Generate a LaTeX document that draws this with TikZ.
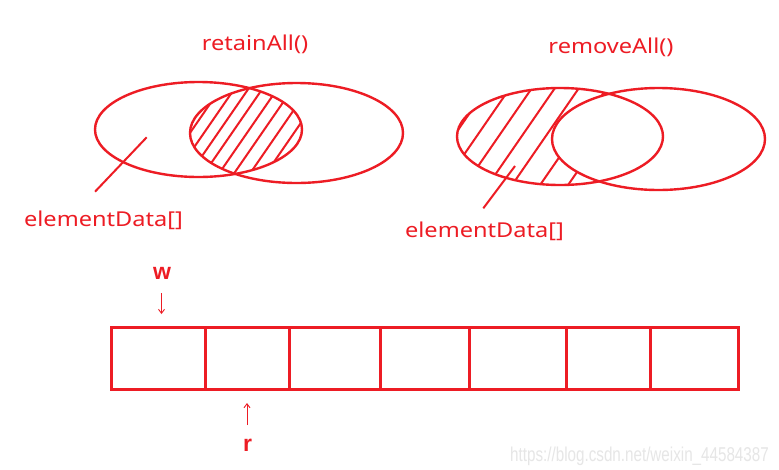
\documentclass[tikz,border=0pt]{standalone}
\usepackage{fontspec}
\usetikzlibrary{arrows.meta}
\setmainfont{Noto Sans}[FakeStretch=1.15]
\newfontfamily\wmfont{Liberation Sans}[FakeStretch=0.76]
\newfontfamily\ptrfont{Liberation Sans}
\definecolor{pred}{HTML}{ED1C24}
\definecolor{wmgray}{HTML}{E6E6E6}
\begin{document}
\begin{tikzpicture}[x=1pt,y=-1pt,
  vennline/.style={draw=pred,line width=2.4pt},
  hatch/.style={draw=pred,line width=2pt},
  lbl/.style={text=pred,font=\fontsize{20.5}{20.5}\selectfont,inner sep=0pt,anchor=center},
  ptr/.style={text=pred,font=\ptrfont\fontsize{23}{23}\selectfont\bfseries,inner sep=0pt},
  tick/.style={draw=pred,line width=0.9pt,-{Straight Barb[length=4pt,width=6pt]}},
  cell/.style={draw=pred,line width=3pt}]
\useasboundingbox (0,0) rectangle (779,469);
\fill[white] (0,0) rectangle (779,469);

% ---------- retainAll ----------
\node[lbl] (t1) at (255,44) {retainAll()};
\begin{scope}
  \clip (198.5,129.5) ellipse [x radius=103.5pt, y radius=47.5pt];
  \clip (296.5,133) ellipse [x radius=106.5pt, y radius=50pt];
  \foreach \x in {192,206,220,234,249,264,280,296}
    \draw[hatch] ({\x-40},{130+58}) -- ({\x+40},{130-58});
\end{scope}
\draw[vennline] (198.5,129.5) ellipse [x radius=103.5pt, y radius=47.5pt];
\draw[vennline] (296.5,133) ellipse [x radius=106.5pt, y radius=50pt];
\coordinate (p1) at (146.7,137.3);
\coordinate (q1) at (95,191.7);
\draw[pred,line width=2pt] (p1) -- (q1);
\node[lbl] (e1) at (103.5,220) {elementData[]};

% ---------- removeAll ----------
\node[lbl] (t2) at (611,47) {removeAll()};
\begin{scope}
  \clip (560,136.5) ellipse [x radius=103pt, y radius=48.5pt];
  \foreach \x in {458,481,503,526,550,578,606}
    \draw[hatch] ({\x-40},{130+58}) -- ({\x+40},{130-58});
  \fill[white] (658.5,139) ellipse [x radius=106.5pt, y radius=51pt];
\end{scope}
\draw[vennline] (560,136.5) ellipse [x radius=103pt, y radius=48.5pt];
\draw[vennline] (658.5,139) ellipse [x radius=106.5pt, y radius=51pt];
\coordinate (p2) at (515,166);
\coordinate (q2) at (483.3,208.3);
\draw[pred,line width=2pt] (p2) -- (q2);
\node[lbl] (e2) at (484.5,231) {elementData[]};

% ---------- array ----------
\draw[cell] (111,327) rectangle (738,389);
\foreach \x in {205,289,380,469,566,650}
  \draw[cell] (\x,327) -- (\x,389);

\node[ptr,anchor=base] (w) at (162,279.5) {w};
\coordinate (wa) at (161.5,293);
\coordinate (wb) at (161.5,314);
\draw[tick] (wa) -- (wb);

\node[ptr,anchor=base] (r) at (247.5,451.5) {r};
\coordinate (ra) at (247,425);
\coordinate (rb) at (247,403);
\draw[tick] (ra) -- (rb);

\node[text=wmgray,font=\wmfont\fontsize{20}{20}\selectfont,inner sep=0pt,anchor=base east] (wm) at (769,461) {https://blog.csdn.net/weixin\_44584387};
\end{tikzpicture}
\end{document}
